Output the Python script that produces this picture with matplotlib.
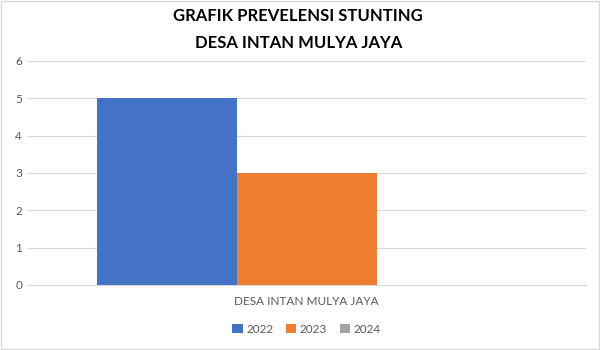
import matplotlib.pyplot as plt

plt.rcParams['font.family'] = ['Lato', 'DejaVu Sans']

category = 'DESA INTAN MULYA JAYA'
years = ['2022', '2023', '2024']
values = [5, 3, 0]
colors = ['#4472C4', '#ED7D31', '#A5A5A5']

fig = plt.figure(figsize=(6, 3.5), dpi=100)
ax = fig.add_axes([0.045, 0.186, 0.932, 0.64])

width = 0.25
for i, (yr, v, c) in enumerate(zip(years, values, colors)):
    ax.bar((i - 1) * width, v, width=width, color=c, label=yr, zorder=3)

ax.set_xlim(-0.5, 0.5)
ax.set_ylim(0, 6)
ax.set_yticks(range(7))
ax.set_xticks([0])
ax.set_xticklabels([category])
ax.grid(axis='y', color='#D9D9D9', linewidth=0.8, zorder=0)
for s in ['top', 'right', 'left']:
    ax.spines[s].set_visible(False)
ax.spines['bottom'].set_color('#D9D9D9')
ax.tick_params(axis='both', length=0, colors='#595959', labelsize=8.5)
ax.tick_params(axis='x', pad=8)

fig.text(0.497, 0.977, 'GRAFIK PREVELENSI STUNTING\nDESA INTAN MULYA JAYA',
         ha='center', va='top', fontsize=12, fontweight='bold',
         color='#000000', linespacing=1.85)

ax.legend(loc='upper center', bbox_to_anchor=(0.5, -0.125), ncol=3, frameon=False,
          fontsize=8.5, labelcolor='#595959', handlelength=0.85, handleheight=0.85,
          columnspacing=1.1, handletextpad=0.3)

fig.patches.append(plt.Rectangle((0.002, 0.002), 0.996, 0.996, transform=fig.transFigure,
                                 fill=False, edgecolor='#D9D9D9', linewidth=1))

fig.savefig('out.png', dpi=100)
